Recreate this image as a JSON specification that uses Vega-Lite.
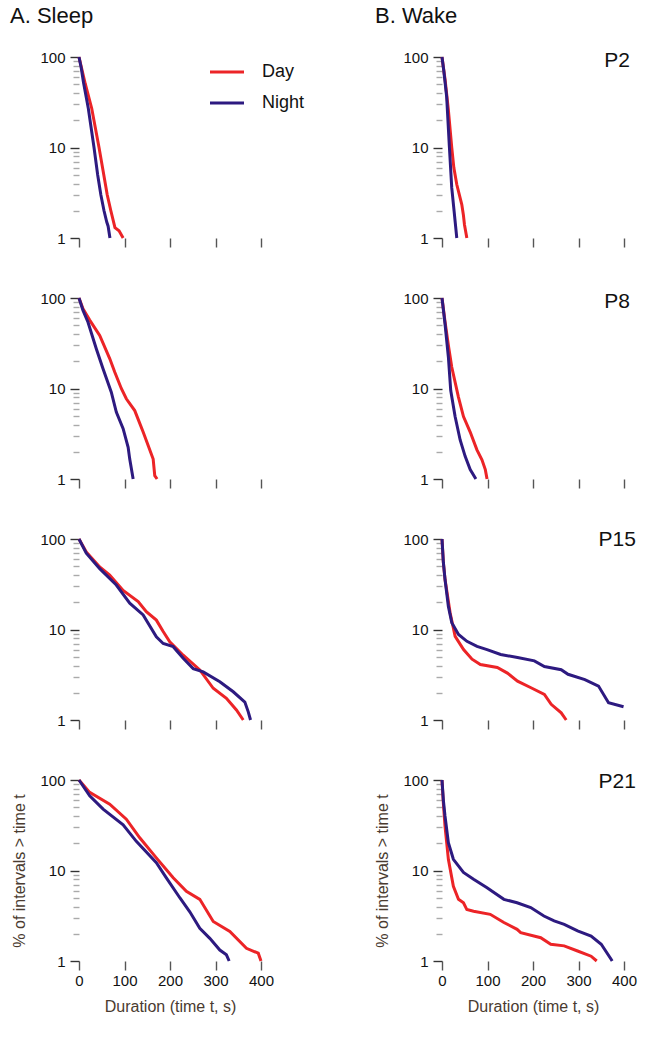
{
  "$schema": "https://vega.github.io/schema/vega-lite/v6.json",
  "padding": {"left": 10, "top": 5, "right": 5, "bottom": 5},
  "config": {
    "font": "Liberation Sans",
    "view": {"stroke": null},
    "axis": {"domain": false, "grid": false, "labelFlush": false, "labelOverlap": false, "labelFontSize": 15, "labelColor": "#111", "titleFontSize": 16, "titleFontWeight": "normal", "titleColor": "#4a3b30", "tickWidth": 1.4},
    "title": {"fontSize": 22, "fontWeight": "normal", "color": "#111", "anchor": "start", "frame": "group", "baseline": "alphabetic", "offset": 22}
  },
  "datasets": {
    "labels": [
      {"age": "P2", "label": "P2"}, {"age": "P8", "label": "P8"}, {"age": "P15", "label": "P15"}, {"age": "P21", "label": "P21"}
    ],
    "curves": [
      {"state":"Sleep","age":"P2","period":"Day","t":0,"v":100},
      {"state":"Sleep","age":"P2","period":"Day","t":5,"v":78},
      {"state":"Sleep","age":"P2","period":"Day","t":14,"v":50},
      {"state":"Sleep","age":"P2","period":"Day","t":28,"v":27},
      {"state":"Sleep","age":"P2","period":"Day","t":44,"v":10},
      {"state":"Sleep","age":"P2","period":"Day","t":53,"v":5.5},
      {"state":"Sleep","age":"P2","period":"Day","t":62,"v":3},
      {"state":"Sleep","age":"P2","period":"Day","t":70,"v":2},
      {"state":"Sleep","age":"P2","period":"Day","t":79,"v":1.3},
      {"state":"Sleep","age":"P2","period":"Day","t":88,"v":1.2},
      {"state":"Sleep","age":"P2","period":"Day","t":97,"v":1.0},
      {"state":"Sleep","age":"P2","period":"Night","t":0,"v":100},
      {"state":"Sleep","age":"P2","period":"Night","t":5,"v":75},
      {"state":"Sleep","age":"P2","period":"Night","t":10,"v":52},
      {"state":"Sleep","age":"P2","period":"Night","t":20.5,"v":27},
      {"state":"Sleep","age":"P2","period":"Night","t":33,"v":10},
      {"state":"Sleep","age":"P2","period":"Night","t":41,"v":5},
      {"state":"Sleep","age":"P2","period":"Night","t":48,"v":3},
      {"state":"Sleep","age":"P2","period":"Night","t":55,"v":2},
      {"state":"Sleep","age":"P2","period":"Night","t":61,"v":1.5},
      {"state":"Sleep","age":"P2","period":"Night","t":64,"v":1.35},
      {"state":"Sleep","age":"P2","period":"Night","t":68,"v":1.0},

      {"state":"Sleep","age":"P8","period":"Day","t":0,"v":100},
      {"state":"Sleep","age":"P8","period":"Day","t":8.8,"v":76},
      {"state":"Sleep","age":"P8","period":"Day","t":23.5,"v":57},
      {"state":"Sleep","age":"P8","period":"Day","t":45.5,"v":38.6},
      {"state":"Sleep","age":"P8","period":"Day","t":67.5,"v":21.4},
      {"state":"Sleep","age":"P8","period":"Day","t":78.5,"v":15.2},
      {"state":"Sleep","age":"P8","period":"Day","t":93,"v":10},
      {"state":"Sleep","age":"P8","period":"Day","t":104,"v":7.7},
      {"state":"Sleep","age":"P8","period":"Day","t":122.5,"v":5.7},
      {"state":"Sleep","age":"P8","period":"Day","t":141,"v":3.3},
      {"state":"Sleep","age":"P8","period":"Day","t":152,"v":2.34},
      {"state":"Sleep","age":"P8","period":"Day","t":163,"v":1.66},
      {"state":"Sleep","age":"P8","period":"Day","t":166.5,"v":1.09},
      {"state":"Sleep","age":"P8","period":"Day","t":171.6,"v":1.0},
      {"state":"Sleep","age":"P8","period":"Night","t":0,"v":100},
      {"state":"Sleep","age":"P8","period":"Night","t":8.8,"v":73},
      {"state":"Sleep","age":"P8","period":"Night","t":19.8,"v":54},
      {"state":"Sleep","age":"P8","period":"Night","t":38,"v":27.5},
      {"state":"Sleep","age":"P8","period":"Night","t":52.8,"v":16.5},
      {"state":"Sleep","age":"P8","period":"Night","t":71,"v":9.1},
      {"state":"Sleep","age":"P8","period":"Night","t":82,"v":5.5},
      {"state":"Sleep","age":"P8","period":"Night","t":97,"v":3.6},
      {"state":"Sleep","age":"P8","period":"Night","t":108,"v":2.24},
      {"state":"Sleep","age":"P8","period":"Night","t":111.5,"v":1.66},
      {"state":"Sleep","age":"P8","period":"Night","t":119,"v":1.0},

      {"state":"Sleep","age":"P15","period":"Day","t":0,"v":100},
      {"state":"Sleep","age":"P15","period":"Day","t":16,"v":72},
      {"state":"Sleep","age":"P15","period":"Day","t":45.5,"v":49},
      {"state":"Sleep","age":"P15","period":"Day","t":67.5,"v":40},
      {"state":"Sleep","age":"P15","period":"Day","t":97,"v":27},
      {"state":"Sleep","age":"P15","period":"Day","t":130,"v":20.4},
      {"state":"Sleep","age":"P15","period":"Day","t":148,"v":15.7},
      {"state":"Sleep","age":"P15","period":"Day","t":170,"v":12.7},
      {"state":"Sleep","age":"P15","period":"Day","t":185,"v":9.5},
      {"state":"Sleep","age":"P15","period":"Day","t":199.5,"v":7.3},
      {"state":"Sleep","age":"P15","period":"Day","t":229,"v":5.2},
      {"state":"Sleep","age":"P15","period":"Day","t":265.5,"v":3.57},
      {"state":"Sleep","age":"P15","period":"Day","t":295,"v":2.24},
      {"state":"Sleep","age":"P15","period":"Day","t":324,"v":1.74},
      {"state":"Sleep","age":"P15","period":"Day","t":346,"v":1.29},
      {"state":"Sleep","age":"P15","period":"Day","t":361,"v":1.0},
      {"state":"Sleep","age":"P15","period":"Night","t":0,"v":100},
      {"state":"Sleep","age":"P15","period":"Night","t":16,"v":69.6},
      {"state":"Sleep","age":"P15","period":"Night","t":45.5,"v":47},
      {"state":"Sleep","age":"P15","period":"Night","t":82,"v":31},
      {"state":"Sleep","age":"P15","period":"Night","t":111.5,"v":19.5},
      {"state":"Sleep","age":"P15","period":"Night","t":141,"v":14.5},
      {"state":"Sleep","age":"P15","period":"Night","t":170,"v":8.3},
      {"state":"Sleep","age":"P15","period":"Night","t":185,"v":7.0},
      {"state":"Sleep","age":"P15","period":"Night","t":207,"v":6.46},
      {"state":"Sleep","age":"P15","period":"Night","t":229,"v":4.8},
      {"state":"Sleep","age":"P15","period":"Night","t":251,"v":3.7},
      {"state":"Sleep","age":"P15","period":"Night","t":273,"v":3.4},
      {"state":"Sleep","age":"P15","period":"Night","t":309.5,"v":2.65},
      {"state":"Sleep","age":"P15","period":"Night","t":339,"v":2.05},
      {"state":"Sleep","age":"P15","period":"Night","t":364.5,"v":1.58},
      {"state":"Sleep","age":"P15","period":"Night","t":372,"v":1.23},
      {"state":"Sleep","age":"P15","period":"Night","t":377,"v":1.0},

      {"state":"Sleep","age":"P21","period":"Day","t":0,"v":100},
      {"state":"Sleep","age":"P21","period":"Day","t":23.5,"v":73},
      {"state":"Sleep","age":"P21","period":"Day","t":67.5,"v":54},
      {"state":"Sleep","age":"P21","period":"Day","t":104,"v":36.9},
      {"state":"Sleep","age":"P21","period":"Day","t":133.5,"v":23},
      {"state":"Sleep","age":"P21","period":"Day","t":170,"v":13.8},
      {"state":"Sleep","age":"P21","period":"Day","t":207,"v":8.3},
      {"state":"Sleep","age":"P21","period":"Day","t":236,"v":5.9},
      {"state":"Sleep","age":"P21","period":"Day","t":265.5,"v":4.8},
      {"state":"Sleep","age":"P21","period":"Day","t":295,"v":2.73},
      {"state":"Sleep","age":"P21","period":"Day","t":331.5,"v":2.12},
      {"state":"Sleep","age":"P21","period":"Day","t":368,"v":1.38},
      {"state":"Sleep","age":"P21","period":"Day","t":394,"v":1.22},
      {"state":"Sleep","age":"P21","period":"Day","t":400,"v":1.0},
      {"state":"Sleep","age":"P21","period":"Night","t":0,"v":100},
      {"state":"Sleep","age":"P21","period":"Night","t":23.5,"v":67},
      {"state":"Sleep","age":"P21","period":"Night","t":53,"v":47.6},
      {"state":"Sleep","age":"P21","period":"Night","t":97,"v":32},
      {"state":"Sleep","age":"P21","period":"Night","t":126,"v":21},
      {"state":"Sleep","age":"P21","period":"Night","t":170,"v":12.2},
      {"state":"Sleep","age":"P21","period":"Night","t":192,"v":8.3},
      {"state":"Sleep","age":"P21","period":"Night","t":221.5,"v":5.0},
      {"state":"Sleep","age":"P21","period":"Night","t":243.5,"v":3.5},
      {"state":"Sleep","age":"P21","period":"Night","t":265.5,"v":2.3},
      {"state":"Sleep","age":"P21","period":"Night","t":287.5,"v":1.78},
      {"state":"Sleep","age":"P21","period":"Night","t":309.5,"v":1.32},
      {"state":"Sleep","age":"P21","period":"Night","t":324,"v":1.17},
      {"state":"Sleep","age":"P21","period":"Night","t":330,"v":1.0},

      {"state":"Wake","age":"P2","period":"Day","t":0,"v":100},
      {"state":"Wake","age":"P2","period":"Day","t":7,"v":55},
      {"state":"Wake","age":"P2","period":"Day","t":14,"v":26},
      {"state":"Wake","age":"P2","period":"Day","t":21.4,"v":10},
      {"state":"Wake","age":"P2","period":"Day","t":26,"v":6},
      {"state":"Wake","age":"P2","period":"Day","t":32.5,"v":3.9},
      {"state":"Wake","age":"P2","period":"Day","t":43.5,"v":2.34},
      {"state":"Wake","age":"P2","period":"Day","t":47,"v":1.8},
      {"state":"Wake","age":"P2","period":"Day","t":49.4,"v":1.4},
      {"state":"Wake","age":"P2","period":"Day","t":54.6,"v":1.0},
      {"state":"Wake","age":"P2","period":"Night","t":0,"v":100},
      {"state":"Wake","age":"P2","period":"Night","t":4,"v":70},
      {"state":"Wake","age":"P2","period":"Night","t":10.3,"v":36},
      {"state":"Wake","age":"P2","period":"Night","t":16.2,"v":10.2},
      {"state":"Wake","age":"P2","period":"Night","t":21.4,"v":3.6},
      {"state":"Wake","age":"P2","period":"Night","t":26.6,"v":1.98},
      {"state":"Wake","age":"P2","period":"Night","t":29,"v":1.5},
      {"state":"Wake","age":"P2","period":"Night","t":32.5,"v":1.0},

      {"state":"Wake","age":"P8","period":"Day","t":0,"v":100},
      {"state":"Wake","age":"P8","period":"Day","t":6.6,"v":55},
      {"state":"Wake","age":"P8","period":"Day","t":14,"v":30},
      {"state":"Wake","age":"P8","period":"Day","t":21.4,"v":17.3},
      {"state":"Wake","age":"P8","period":"Day","t":36,"v":8.1},
      {"state":"Wake","age":"P8","period":"Day","t":47.2,"v":4.9},
      {"state":"Wake","age":"P8","period":"Day","t":62,"v":3.3},
      {"state":"Wake","age":"P8","period":"Day","t":76.8,"v":2.1},
      {"state":"Wake","age":"P8","period":"Day","t":87.8,"v":1.63},
      {"state":"Wake","age":"P8","period":"Day","t":95.2,"v":1.27},
      {"state":"Wake","age":"P8","period":"Day","t":99,"v":1.0},
      {"state":"Wake","age":"P8","period":"Night","t":0,"v":100},
      {"state":"Wake","age":"P8","period":"Night","t":6.6,"v":52},
      {"state":"Wake","age":"P8","period":"Night","t":14,"v":22.3},
      {"state":"Wake","age":"P8","period":"Night","t":19.2,"v":9.5},
      {"state":"Wake","age":"P8","period":"Night","t":28.8,"v":4.9},
      {"state":"Wake","age":"P8","period":"Night","t":39.9,"v":2.7},
      {"state":"Wake","age":"P8","period":"Night","t":50.9,"v":1.78},
      {"state":"Wake","age":"P8","period":"Night","t":62,"v":1.27},
      {"state":"Wake","age":"P8","period":"Night","t":74.5,"v":1.0},

      {"state":"Wake","age":"P15","period":"Day","t":0,"v":100},
      {"state":"Wake","age":"P15","period":"Day","t":3,"v":55},
      {"state":"Wake","age":"P15","period":"Day","t":6.7,"v":35.6},
      {"state":"Wake","age":"P15","period":"Day","t":17.8,"v":15.3},
      {"state":"Wake","age":"P15","period":"Day","t":28.9,"v":8.4},
      {"state":"Wake","age":"P15","period":"Day","t":47.4,"v":6.0},
      {"state":"Wake","age":"P15","period":"Day","t":66,"v":4.7},
      {"state":"Wake","age":"P15","period":"Day","t":84.4,"v":4.1},
      {"state":"Wake","age":"P15","period":"Day","t":121.5,"v":3.8},
      {"state":"Wake","age":"P15","period":"Day","t":143.7,"v":3.3},
      {"state":"Wake","age":"P15","period":"Day","t":166,"v":2.69},
      {"state":"Wake","age":"P15","period":"Day","t":195.6,"v":2.27},
      {"state":"Wake","age":"P15","period":"Day","t":225,"v":1.92},
      {"state":"Wake","age":"P15","period":"Day","t":240,"v":1.49},
      {"state":"Wake","age":"P15","period":"Day","t":262,"v":1.2},
      {"state":"Wake","age":"P15","period":"Day","t":273,"v":1.0},
      {"state":"Wake","age":"P15","period":"Night","t":0,"v":100},
      {"state":"Wake","age":"P15","period":"Night","t":3,"v":55},
      {"state":"Wake","age":"P15","period":"Night","t":6.7,"v":35.6},
      {"state":"Wake","age":"P15","period":"Night","t":14,"v":18},
      {"state":"Wake","age":"P15","period":"Night","t":21.5,"v":11.9},
      {"state":"Wake","age":"P15","period":"Night","t":36.3,"v":8.8},
      {"state":"Wake","age":"P15","period":"Night","t":54.8,"v":7.4},
      {"state":"Wake","age":"P15","period":"Night","t":77,"v":6.5},
      {"state":"Wake","age":"P15","period":"Night","t":99,"v":6.0},
      {"state":"Wake","age":"P15","period":"Night","t":128.9,"v":5.3},
      {"state":"Wake","age":"P15","period":"Night","t":166,"v":4.9},
      {"state":"Wake","age":"P15","period":"Night","t":203,"v":4.5},
      {"state":"Wake","age":"P15","period":"Night","t":225,"v":3.9},
      {"state":"Wake","age":"P15","period":"Night","t":262,"v":3.6},
      {"state":"Wake","age":"P15","period":"Night","t":277,"v":3.2},
      {"state":"Wake","age":"P15","period":"Night","t":314,"v":2.8},
      {"state":"Wake","age":"P15","period":"Night","t":344,"v":2.37},
      {"state":"Wake","age":"P15","period":"Night","t":366,"v":1.55},
      {"state":"Wake","age":"P15","period":"Night","t":399,"v":1.4},

      {"state":"Wake","age":"P21","period":"Day","t":0,"v":100},
      {"state":"Wake","age":"P21","period":"Day","t":3,"v":55},
      {"state":"Wake","age":"P21","period":"Day","t":6.6,"v":31},
      {"state":"Wake","age":"P21","period":"Day","t":14,"v":13.3},
      {"state":"Wake","age":"P21","period":"Day","t":25,"v":6.7},
      {"state":"Wake","age":"P21","period":"Day","t":36.2,"v":4.8},
      {"state":"Wake","age":"P21","period":"Day","t":47.2,"v":4.4},
      {"state":"Wake","age":"P21","period":"Day","t":54.6,"v":3.7},
      {"state":"Wake","age":"P21","period":"Day","t":69.4,"v":3.55},
      {"state":"Wake","age":"P21","period":"Day","t":106,"v":3.28},
      {"state":"Wake","age":"P21","period":"Day","t":136,"v":2.66},
      {"state":"Wake","age":"P21","period":"Day","t":165,"v":2.24},
      {"state":"Wake","age":"P21","period":"Day","t":173,"v":2.06},
      {"state":"Wake","age":"P21","period":"Day","t":217,"v":1.81},
      {"state":"Wake","age":"P21","period":"Day","t":239,"v":1.53},
      {"state":"Wake","age":"P21","period":"Day","t":268.6,"v":1.47},
      {"state":"Wake","age":"P21","period":"Day","t":298,"v":1.29},
      {"state":"Wake","age":"P21","period":"Day","t":327.7,"v":1.13},
      {"state":"Wake","age":"P21","period":"Day","t":340,"v":1.0},
      {"state":"Wake","age":"P21","period":"Night","t":0,"v":100},
      {"state":"Wake","age":"P21","period":"Night","t":3,"v":60},
      {"state":"Wake","age":"P21","period":"Night","t":6.6,"v":40},
      {"state":"Wake","age":"P21","period":"Night","t":14,"v":20.3},
      {"state":"Wake","age":"P21","period":"Night","t":25,"v":13.3},
      {"state":"Wake","age":"P21","period":"Night","t":47.2,"v":9.5},
      {"state":"Wake","age":"P21","period":"Night","t":69.4,"v":8.0},
      {"state":"Wake","age":"P21","period":"Night","t":99,"v":6.45},
      {"state":"Wake","age":"P21","period":"Night","t":136,"v":4.8},
      {"state":"Wake","age":"P21","period":"Night","t":165,"v":4.4},
      {"state":"Wake","age":"P21","period":"Night","t":195,"v":3.9},
      {"state":"Wake","age":"P21","period":"Night","t":224,"v":3.14},
      {"state":"Wake","age":"P21","period":"Night","t":246.5,"v":2.77},
      {"state":"Wake","age":"P21","period":"Night","t":268.6,"v":2.54},
      {"state":"Wake","age":"P21","period":"Night","t":298,"v":2.15},
      {"state":"Wake","age":"P21","period":"Night","t":327.7,"v":1.89},
      {"state":"Wake","age":"P21","period":"Night","t":350,"v":1.53},
      {"state":"Wake","age":"P21","period":"Night","t":372,"v":1.04},
      {"state":"Wake","age":"P21","period":"Night","t":374,"v":1.0}
    ]
  },
  "columns": 2,
  "spacing": {"row": 60, "column": 181},
  "bounds": "flush",
  "resolve": {"scale": {"color": "independent"}},
  "concat": [
    {
      "width": 182, "height": 181,
      "title": {"text": "A. Sleep", "dx": -69},
      "data": {"name": "curves"},
      "transform": [{"filter": "datum.state==='Sleep' && datum.age==='P2'"}],
      "mark": {"type": "line", "strokeWidth": 3},
      "encoding": {
        "x": {"field": "t", "type": "quantitative", "scale": {"domain": [0, 400], "nice": false}, "axis": {"values": [0,100,200,300,400], "labels": false, "tickSize": 9, "tickColor": "#555", "title": null}},
        "y": {"field": "v", "type": "quantitative", "scale": {"type": "log", "domain": [1, 100]}, "axis": {"values": [1,2,3,4,5,6,7,8,9,10,20,30,40,50,60,70,80,90,100], "format": "d", "labelExpr": "(datum.value==1||datum.value==10||datum.value==100)?datum.label:''", "tickSize": {"condition": {"test": "datum.value==1||datum.value==10||datum.value==100", "value": 9}, "value": 6}, "tickColor": {"condition": {"test": "datum.value==1||datum.value==10||datum.value==100", "value": "#333"}, "value": "#aaa"}, "labelPadding": 5, "title": null}},
        "color": {"field": "period", "type": "nominal", "scale": {"domain": ["Day", "Night"], "range": ["#ec2427", "#2d1a80"]}, "legend": {"orient": "none", "legendX": 129, "legendY": -4, "title": null, "symbolType": "stroke", "symbolSize": 1156, "symbolStrokeWidth": 3.2, "labelFontSize": 18, "labelOffset": 16, "rowPadding": 3, "labelColor": "#111"}}
      }
    },
    {
      "width": 182, "height": 181,
      "title": {"text": "B. Wake", "dx": -67},
      "layer": [
        {
          "data": {"name": "curves"},
          "transform": [{"filter": "datum.state==='Wake' && datum.age==='P2'"}],
          "mark": {"type": "line", "strokeWidth": 3},
          "encoding": {
            "x": {"field": "t", "type": "quantitative", "scale": {"domain": [0, 400], "nice": false}, "axis": {"values": [0,100,200,300,400], "labels": false, "tickSize": 9, "tickColor": "#555", "title": null}},
            "y": {"field": "v", "type": "quantitative", "scale": {"type": "log", "domain": [1, 100]}, "axis": {"values": [1,2,3,4,5,6,7,8,9,10,20,30,40,50,60,70,80,90,100], "format": "d", "labelExpr": "(datum.value==1||datum.value==10||datum.value==100)?datum.label:''", "tickSize": {"condition": {"test": "datum.value==1||datum.value==10||datum.value==100", "value": 9}, "value": 6}, "tickColor": {"condition": {"test": "datum.value==1||datum.value==10||datum.value==100", "value": "#333"}, "value": "#aaa"}, "labelPadding": 5, "title": null}},
            "color": {"field": "period", "type": "nominal", "scale": {"domain": ["Day", "Night"], "range": ["#ec2427", "#2d1a80"]}, "legend": null}
          }
        },
        {
          "data": {"name": "labels"},
          "transform": [{"filter": "datum.age==='P2'"}],
          "mark": {"type": "text", "align": "center", "baseline": "middle", "fontSize": 21, "dy": 4, "color": "#111"},
          "encoding": {"x": {"datum": 385}, "y": {"datum": 100}, "text": {"field": "label"}}
        }
      ]
    },
    {
      "width": 182, "height": 181,
      "data": {"name": "curves"},
      "transform": [{"filter": "datum.state==='Sleep' && datum.age==='P8'"}],
      "mark": {"type": "line", "strokeWidth": 3},
      "encoding": {
        "x": {"field": "t", "type": "quantitative", "scale": {"domain": [0, 400], "nice": false}, "axis": {"values": [0,100,200,300,400], "labels": false, "tickSize": 9, "tickColor": "#555", "title": null}},
        "y": {"field": "v", "type": "quantitative", "scale": {"type": "log", "domain": [1, 100]}, "axis": {"values": [1,2,3,4,5,6,7,8,9,10,20,30,40,50,60,70,80,90,100], "format": "d", "labelExpr": "(datum.value==1||datum.value==10||datum.value==100)?datum.label:''", "tickSize": {"condition": {"test": "datum.value==1||datum.value==10||datum.value==100", "value": 9}, "value": 6}, "tickColor": {"condition": {"test": "datum.value==1||datum.value==10||datum.value==100", "value": "#333"}, "value": "#aaa"}, "labelPadding": 5, "title": null}},
        "color": {"field": "period", "type": "nominal", "scale": {"domain": ["Day", "Night"], "range": ["#ec2427", "#2d1a80"]}, "legend": null}
      }
    },
    {
      "width": 182, "height": 181,
      "layer": [
        {
          "data": {"name": "curves"},
          "transform": [{"filter": "datum.state==='Wake' && datum.age==='P8'"}],
          "mark": {"type": "line", "strokeWidth": 3},
          "encoding": {
            "x": {"field": "t", "type": "quantitative", "scale": {"domain": [0, 400], "nice": false}, "axis": {"values": [0,100,200,300,400], "labels": false, "tickSize": 9, "tickColor": "#555", "title": null}},
            "y": {"field": "v", "type": "quantitative", "scale": {"type": "log", "domain": [1, 100]}, "axis": {"values": [1,2,3,4,5,6,7,8,9,10,20,30,40,50,60,70,80,90,100], "format": "d", "labelExpr": "(datum.value==1||datum.value==10||datum.value==100)?datum.label:''", "tickSize": {"condition": {"test": "datum.value==1||datum.value==10||datum.value==100", "value": 9}, "value": 6}, "tickColor": {"condition": {"test": "datum.value==1||datum.value==10||datum.value==100", "value": "#333"}, "value": "#aaa"}, "labelPadding": 5, "title": null}},
            "color": {"field": "period", "type": "nominal", "scale": {"domain": ["Day", "Night"], "range": ["#ec2427", "#2d1a80"]}, "legend": null}
          }
        },
        {
          "data": {"name": "labels"},
          "transform": [{"filter": "datum.age==='P8'"}],
          "mark": {"type": "text", "align": "center", "baseline": "middle", "fontSize": 21, "dy": 4, "color": "#111"},
          "encoding": {"x": {"datum": 385}, "y": {"datum": 100}, "text": {"field": "label"}}
        }
      ]
    },
    {
      "width": 182, "height": 181,
      "data": {"name": "curves"},
      "transform": [{"filter": "datum.state==='Sleep' && datum.age==='P15'"}],
      "mark": {"type": "line", "strokeWidth": 3},
      "encoding": {
        "x": {"field": "t", "type": "quantitative", "scale": {"domain": [0, 400], "nice": false}, "axis": {"values": [0,100,200,300,400], "labels": false, "tickSize": 9, "tickColor": "#555", "title": null}},
        "y": {"field": "v", "type": "quantitative", "scale": {"type": "log", "domain": [1, 100]}, "axis": {"values": [1,2,3,4,5,6,7,8,9,10,20,30,40,50,60,70,80,90,100], "format": "d", "labelExpr": "(datum.value==1||datum.value==10||datum.value==100)?datum.label:''", "tickSize": {"condition": {"test": "datum.value==1||datum.value==10||datum.value==100", "value": 9}, "value": 6}, "tickColor": {"condition": {"test": "datum.value==1||datum.value==10||datum.value==100", "value": "#333"}, "value": "#aaa"}, "labelPadding": 5, "title": null}},
        "color": {"field": "period", "type": "nominal", "scale": {"domain": ["Day", "Night"], "range": ["#ec2427", "#2d1a80"]}, "legend": null}
      }
    },
    {
      "width": 182, "height": 181,
      "layer": [
        {
          "data": {"name": "curves"},
          "transform": [{"filter": "datum.state==='Wake' && datum.age==='P15'"}],
          "mark": {"type": "line", "strokeWidth": 3},
          "encoding": {
            "x": {"field": "t", "type": "quantitative", "scale": {"domain": [0, 400], "nice": false}, "axis": {"values": [0,100,200,300,400], "labels": false, "tickSize": 9, "tickColor": "#555", "title": null}},
            "y": {"field": "v", "type": "quantitative", "scale": {"type": "log", "domain": [1, 100]}, "axis": {"values": [1,2,3,4,5,6,7,8,9,10,20,30,40,50,60,70,80,90,100], "format": "d", "labelExpr": "(datum.value==1||datum.value==10||datum.value==100)?datum.label:''", "tickSize": {"condition": {"test": "datum.value==1||datum.value==10||datum.value==100", "value": 9}, "value": 6}, "tickColor": {"condition": {"test": "datum.value==1||datum.value==10||datum.value==100", "value": "#333"}, "value": "#aaa"}, "labelPadding": 5, "title": null}},
            "color": {"field": "period", "type": "nominal", "scale": {"domain": ["Day", "Night"], "range": ["#ec2427", "#2d1a80"]}, "legend": null}
          }
        },
        {
          "data": {"name": "labels"},
          "transform": [{"filter": "datum.age==='P15'"}],
          "mark": {"type": "text", "align": "center", "baseline": "middle", "fontSize": 21, "dy": 1, "color": "#111"},
          "encoding": {"x": {"datum": 385}, "y": {"datum": 100}, "text": {"field": "label"}}
        }
      ]
    },
    {
      "width": 182, "height": 181,
      "data": {"name": "curves"},
      "transform": [{"filter": "datum.state==='Sleep' && datum.age==='P21'"}],
      "mark": {"type": "line", "strokeWidth": 3},
      "encoding": {
        "x": {"field": "t", "type": "quantitative", "scale": {"domain": [0, 400], "nice": false}, "axis": {"values": [0,100,200,300,400], "labels": true, "labelPadding": 3, "tickSize": 9, "tickColor": "#555", "title": "Duration (time t, s)", "titlePadding": 10}},
        "y": {"field": "v", "type": "quantitative", "scale": {"type": "log", "domain": [1, 100]}, "axis": {"values": [1,2,3,4,5,6,7,8,9,10,20,30,40,50,60,70,80,90,100], "format": "d", "labelExpr": "(datum.value==1||datum.value==10||datum.value==100)?datum.label:''", "tickSize": {"condition": {"test": "datum.value==1||datum.value==10||datum.value==100", "value": 9}, "value": 6}, "tickColor": {"condition": {"test": "datum.value==1||datum.value==10||datum.value==100", "value": "#333"}, "value": "#aaa"}, "labelPadding": 5, "title": "% of intervals > time t", "titlePadding": 12}},
        "color": {"field": "period", "type": "nominal", "scale": {"domain": ["Day", "Night"], "range": ["#ec2427", "#2d1a80"]}, "legend": null}
      }
    },
    {
      "width": 182, "height": 181,
      "layer": [
        {
          "data": {"name": "curves"},
          "transform": [{"filter": "datum.state==='Wake' && datum.age==='P21'"}],
          "mark": {"type": "line", "strokeWidth": 3},
          "encoding": {
            "x": {"field": "t", "type": "quantitative", "scale": {"domain": [0, 400], "nice": false}, "axis": {"values": [0,100,200,300,400], "labels": true, "labelPadding": 3, "tickSize": 9, "tickColor": "#555", "title": "Duration (time t, s)", "titlePadding": 10}},
            "y": {"field": "v", "type": "quantitative", "scale": {"type": "log", "domain": [1, 100]}, "axis": {"values": [1,2,3,4,5,6,7,8,9,10,20,30,40,50,60,70,80,90,100], "format": "d", "labelExpr": "(datum.value==1||datum.value==10||datum.value==100)?datum.label:''", "tickSize": {"condition": {"test": "datum.value==1||datum.value==10||datum.value==100", "value": 9}, "value": 6}, "tickColor": {"condition": {"test": "datum.value==1||datum.value==10||datum.value==100", "value": "#333"}, "value": "#aaa"}, "labelPadding": 5, "title": "% of intervals > time t", "titlePadding": 12}},
            "color": {"field": "period", "type": "nominal", "scale": {"domain": ["Day", "Night"], "range": ["#ec2427", "#2d1a80"]}, "legend": null}
          }
        },
        {
          "data": {"name": "labels"},
          "transform": [{"filter": "datum.age==='P21'"}],
          "mark": {"type": "text", "align": "center", "baseline": "middle", "fontSize": 21, "dy": 2, "color": "#111"},
          "encoding": {"x": {"datum": 385}, "y": {"datum": 100}, "text": {"field": "label"}}
        }
      ]
    }
  ]
}
